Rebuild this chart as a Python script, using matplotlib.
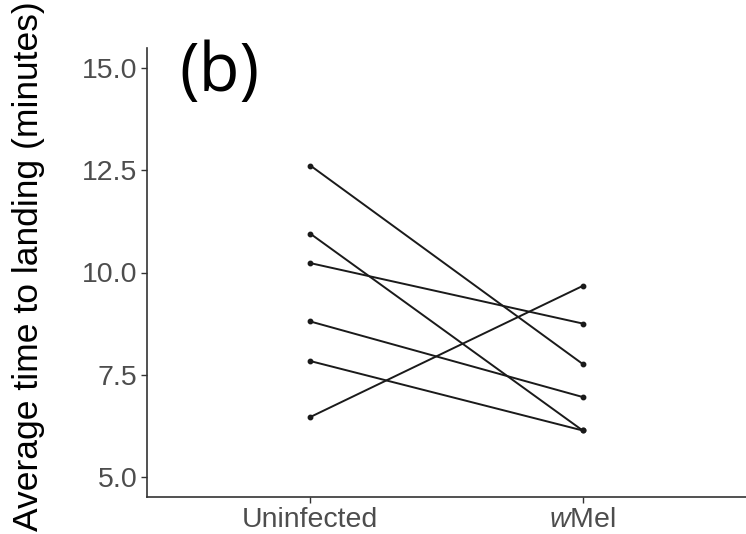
import matplotlib
matplotlib.use("Agg")
import matplotlib.pyplot as plt

plt.rcParams['font.family'] = ['Liberation Sans', 'DejaVu Sans']
plt.rcParams['mathtext.fontset'] = 'custom'
plt.rcParams['mathtext.rm'] = 'Liberation Sans'
plt.rcParams['mathtext.it'] = 'Liberation Sans:italic'

categories = ['Uninfected', r'$\mathit{w}$Mel']
uninfected = [12.62, 10.95, 10.23, 8.80, 7.83, 6.46]
wmel = [7.76, 6.13, 8.75, 6.95, 6.13, 9.67]
yticks = [5.0, 7.5, 10.0, 12.5, 15.0]
ytick_labels = ['5.0', '7.5', '10.0', '12.5', '15.0']

fig = plt.figure(figsize=(7.46, 5.34), dpi=100)
ax = fig.add_axes([147/746, 37/534, 1 - 147/746, (497-48)/534])

xpos = [1, 2]
for u, w in zip(uninfected, wmel):
    ax.plot(xpos, [u, w], color='#1a1a1a', lw=1.4, marker='o', ms=3.2, solid_capstyle='round')

ax.set_xlim(0.4, 2.6)
ax.set_ylim(4.5, 15.5)
ax.set_xticks(xpos)
ax.set_xticklabels(categories)
ax.set_yticks(yticks)
ax.set_yticklabels(ytick_labels)

for s in ['top', 'right']:
    ax.spines[s].set_visible(False)
for s in ['left', 'bottom']:
    ax.spines[s].set_color('#333333')
    ax.spines[s].set_linewidth(1.2)

ax.tick_params(axis='both', colors='#333333', length=4, width=1.0, labelsize=20.5,
               labelcolor='#4D4D4D', pad=3)
ax.set_ylabel('Average time to landing (minutes)', fontsize=25.5, color='black')
ax.yaxis.set_label_coords(-0.170, 0.514)

fig.text(179/746, 1 - 91/534, '(b)', fontsize=48, color='black', ha='left', va='baseline',
         family=['Open Sans', 'DejaVu Sans'])

fig.savefig('out.png', dpi=100)
